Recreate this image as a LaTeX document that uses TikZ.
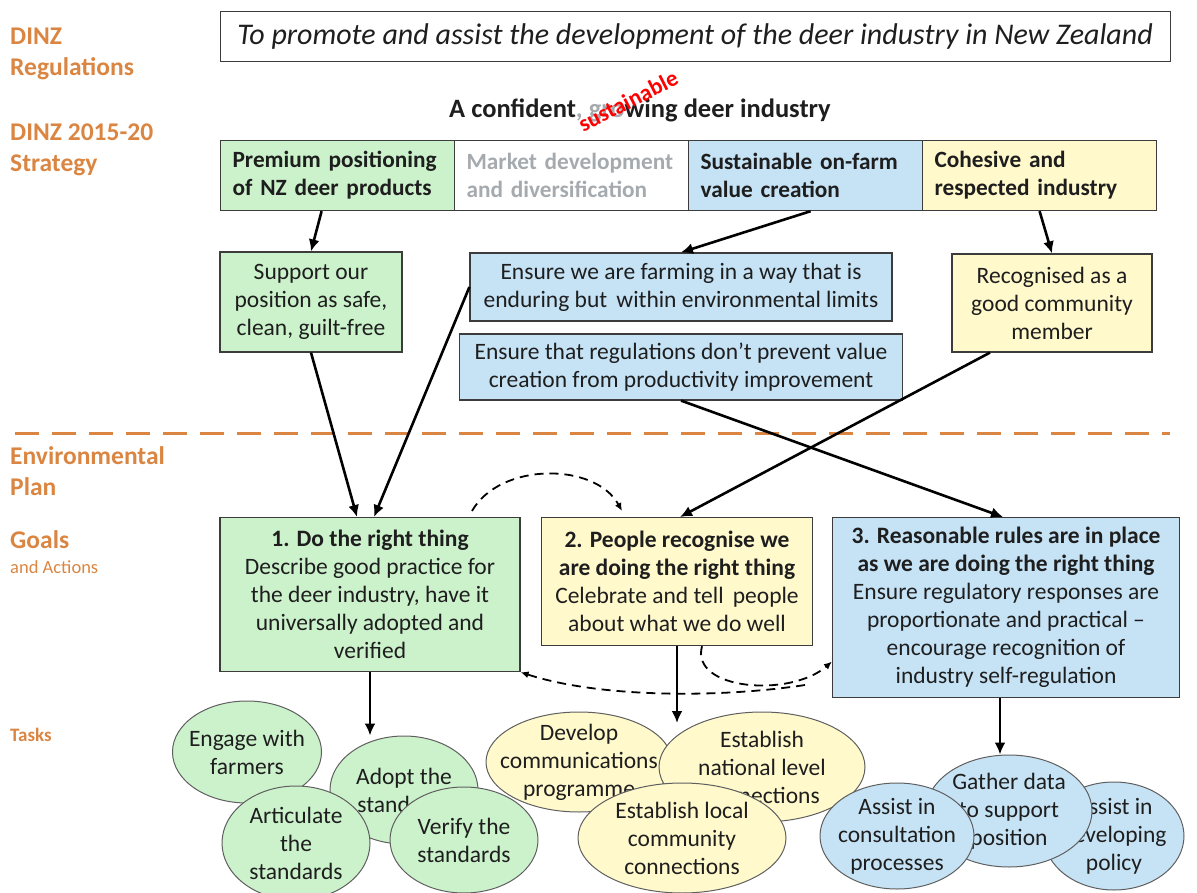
\documentclass[tikz,border=0pt]{standalone}
\usepackage{fontspec}
\setmainfont{Carlito}
\usetikzlibrary{shapes.geometric,arrows.meta}

\definecolor{dinzorange}{RGB}{218,134,66}
\definecolor{textdark}{RGB}{30,30,30}
\definecolor{fadegrey}{RGB}{165,170,175}
\definecolor{boxline}{RGB}{60,60,60}
\definecolor{taskline}{RGB}{95,95,95}
\definecolor{greenfill}{RGB}{204,242,204}
\definecolor{bluefill}{RGB}{198,227,246}
\definecolor{yellowfill}{RGB}{255,249,204}

\tikzset{
  side/.style={anchor=west, align=left, inner sep=0pt, text=dinzorange,
    font=\bfseries\fontsize{25.5}{31}\selectfont},
  strat/.style={draw=boxline, line width=1.2pt, anchor=north west, align=left,
    text width=210pt, inner xsep=12pt, minimum height=70pt,
    font=\bfseries\fontsize{23.3}{28}\selectfont},
  aim/.style={draw=boxline, line width=1.2pt, align=center, inner sep=0pt,
    font=\fontsize{23.5}{28}\selectfont},
  goal/.style={draw=boxline, line width=1.2pt, align=center, anchor=north,
    inner sep=0pt, font=\fontsize{23.5}{28}\selectfont},
  task/.style={ellipse, draw=taskline, line width=1pt, inner sep=0pt},
  tasktext/.style={align=center, inner sep=0pt, font=\fontsize{23.5}{28}\selectfont},
  flow/.style={-{Latex[length=12pt,width=11pt]}, line width=2.6pt},
  loop/.style={-{Latex[length=8pt,width=7pt]}, line width=1.8pt,
    dash pattern=on 9pt off 6pt}
}

\begin{document}
\begin{tikzpicture}[x=1pt, y=-1pt, every node/.style={text=textdark}]
\useasboundingbox (0,0) rectangle (1197,893);

% headings down the left
\node[side] (regsHead) at (10,54) {DINZ\\Regulations};
\node[side] (stratHead) at (10,150) {DINZ 2015-20\\Strategy};
\node[side] (planHead) at (10,471) {Environmental\\Plan};
\node[side] (goalHead) at (10,540) {Goals};
\node[side, font=\fontsize{18.5}{20}\selectfont] (actHead) at (10,567) {and Actions};
\node[side, font=\bfseries\fontsize{19}{20}\selectfont] (taskHead) at (10,735) {Tasks};

% purpose and vision
\node[draw=boxline, line width=1pt, minimum width=950pt, minimum height=50pt, inner sep=0pt,
  font=\itshape\fontsize{30}{34}\selectfont] (mission) at (695,37)
  {To promote and assist the development of the deer industry in New Zealand};
\node[font=\bfseries\fontsize{26.5}{30}\selectfont] (vision) at (640,110)
  {A confident\textcolor{fadegrey}{, gro}wing deer industry};
\node[rotate=27, text=red, font=\bfseries\fontsize{23}{26}\selectfont] (sustain) at (628,101) {sustainable};

% strategy row
\node[strat, fill=greenfill] (premium) at (220,140) {Premium positioning\\of NZ deer products};
\node[strat, text=fadegrey] (market) at (454,140) {Market development\\and diversification};
\node[strat, fill=bluefill] (onfarm) at (688,140) {Sustainable on-farm\\value creation};
\node[strat, fill=yellowfill] (cohesive) at (922,140) {Cohesive and\\respected industry};

% what each strand asks of the plan
\node[aim, fill=greenfill, minimum width=182pt, minimum height=100pt] (support) at (311,302)
  {Support our\\position as safe,\\clean, guilt-free};
\node[aim, fill=bluefill, minimum width=422pt, minimum height=68pt] (farming) at (681,287)
  {Ensure we are farming in a way that is\\enduring but\, within environmental limits};
\node[aim, fill=bluefill, minimum width=443pt, minimum height=66pt] (regs) at (681,367)
  {Ensure that regulations don't prevent value\\creation from productivity improvement};
\node[aim, fill=yellowfill, minimum width=200pt, minimum height=98pt] (community) at (1052,303)
  {Recognised as a\\good community\\member};

\draw[dinzorange, line width=3pt, dash pattern=on 24pt off 13pt] (15,433) -- (1170,433);

% goals
\node[goal, fill=greenfill, minimum width=300pt, minimum height=154pt] (doright) at (370,517)
  {\textbf{1. Do the right thing}\\Describe good practice for\\the deer industry, have it\\universally adopted and\\verified};
\node[goal, fill=yellowfill, minimum width=271pt, minimum height=128pt] (recognised) at (677,517)
  {\textbf{2. People recognise we}\\\textbf{are doing the right thing}\\Celebrate and tell\, people\\about what we do well};
\node[goal, fill=bluefill, minimum width=347pt, minimum height=180pt] (rules) at (1006,517)
  {\textbf{3. Reasonable rules are in place}\\\textbf{as we are doing the right thing}\\Ensure regulatory responses are\\proportionate and practical --\\encourage recognition of\\industry self-regulation};

% tasks
\node[task, fill=greenfill, minimum width=149pt, minimum height=102pt,
  label={[tasktext]center:{Engage with\\farmers}}] (engage) at (247,752) {};
\node[task, fill=greenfill, minimum width=148pt, minimum height=108pt,
  label={[tasktext]center:{Adopt the\\standards}}] (adopt) at (404,790) {};
\node[task, fill=greenfill, minimum width=148pt, minimum height=114pt,
  label={[tasktext]center:{Articulate\\the\\standards}}] (articulate) at (296,843) {};
\node[task, fill=greenfill, minimum width=148pt, minimum height=106pt,
  label={[tasktext]center:{Verify the\\standards}}] (verify) at (464,840) {};

\node[task, fill=yellowfill, minimum width=186pt, minimum height=100pt,
  label={[tasktext]center:{Develop\\communications\\programme}}] (develop) at (579,762) {};
\node[task, fill=yellowfill, minimum width=206pt, minimum height=110pt,
  label={[tasktext]center:{Establish\\national level\\connections}}] (national) at (762,767) {};
\node[task, fill=yellowfill, minimum width=208pt, minimum height=110pt,
  label={[tasktext]center:{Establish local\\community\\connections}}] (local) at (682,838) {};

\node[task, fill=bluefill, minimum width=140pt, minimum height=108pt,
  label={[tasktext]center:{Assist in\\developing\\policy}}] (policy) at (1114,836) {};
\node[task, fill=bluefill, minimum width=166pt, minimum height=112pt,
  label={[tasktext]center:{Gather data\\to support\\position}}] (gather) at (1009,811) {};
\node[task, fill=bluefill, minimum width=154pt, minimum height=106pt,
  label={[tasktext]center:{Assist in\\consultation\\processes}}] (consult) at (897,836) {};

% links down from the strategy
\draw[flow] ([xshift=-16pt]premium.south) -- (support.north);
\draw[flow] ([xshift=5pt]onfarm.south) -- (farming.north);
\draw[flow] (cohesive.south) -- (community.north);
\draw[flow] (support.south) -- ([xshift=-13pt]doright.north);
\draw[flow] (farming.west) -- ([xshift=4pt]doright.north);
\draw[flow] (regs.south) -- ([xshift=-3pt]rules.north);
\draw[flow] ([xshift=-62pt]community.south) -- ([xshift=3pt]recognised.north);

% goals feeding each other
\coordinate (loopstart) at (805,685);
\draw[loop] ([shift={(102pt,6pt)}]doright.north) .. controls (500,462) and (595,462) .. ([shift={(-55pt,6pt)}]recognised.north);
\draw[loop] ([xshift=25pt]recognised.south) .. controls (690,690) and (790,698) .. ([yshift=-54pt]rules.west);
\draw[loop] (loopstart) .. controls (720,698) and (600,698) .. (doright.south east);

% down to the tasks
\coordinate (taskmeet) at (677,723);
\draw[flow] (doright.south) -- (doright.south |- adopt.north);
\draw[flow] (recognised.south) -- (taskmeet);
\draw[flow] ([xshift=-6pt]rules.south) -- ([xshift=-6pt]rules.south |- gather.north);
\end{tikzpicture}
\end{document}
